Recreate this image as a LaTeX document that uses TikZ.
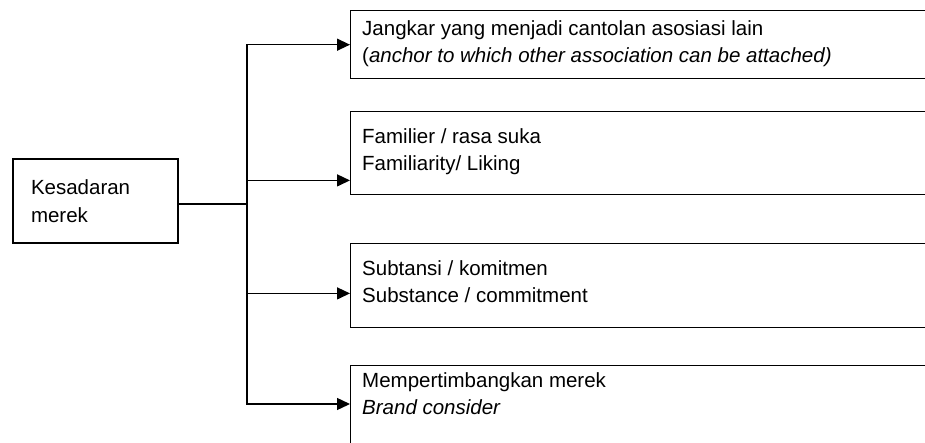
\documentclass[tikz,border=0pt]{standalone}
\usepackage{fontspec}
\setmainfont{Liberation Sans}
\usetikzlibrary{arrows.meta, positioning}

\begin{document}
\begin{tikzpicture}[
    x=1pt, y=1pt,
    font=\fontsize{20.5pt}{27.5pt}\selectfont,
    box/.style={rectangle, draw, line width=1.4pt, anchor=north west, minimum width=600pt, inner sep=0pt},
    note/.style={align=left, inner sep=0pt},
    link/.style={line width=1.4pt, -{Triangle[length=13pt, width=12pt]}}
]

\useasboundingbox (0,0) rectangle (925,-443);
\clip (0,0) rectangle (925,-443);

% Root box
\node[draw, line width=1.4pt, text width=129pt, inner xsep=18pt, inner ysep=0pt, minimum height=84pt, align=left] (kesadaran) at (95.5,-201) {Kesadaran\\merek};

% Branch boxes
\node[box, minimum height=68pt] (jangkar) at (350,-10) {};
\node[box, minimum height=83pt] (familier) at (350,-111) {};
\node[box, minimum height=84pt] (subtansi) at (350,-243) {};
\node[box, minimum height=120pt] (pertimbang) at (350,-365) {};

% Texts inside the branch boxes
\node[note, below right=10pt and 12pt of jangkar.north west] (jangkartext) {Jangkar yang menjadi cantolan asosiasi lain\\(\textit{anchor to which other association can be attached)}};
\node[note, below right=17pt and 12pt of familier.north west] (familiertext) {Familier / rasa suka\\Familiarity/ Liking};
\node[note, below right=17pt and 12pt of subtansi.north west] (subtansitext) {Subtansi / komitmen\\Substance / commitment};
\node[note, below right=7pt and 12pt of pertimbang.north west] (pertimbangtext) {Mempertimbangkan merek\\\textit{Brand consider}};

% Connectors
\coordinate (fork) at (247,-204);
\draw[line width=1.4pt] ([yshift=-3pt]kesadaran.east) -- (fork);
\draw[link] (fork) |- (jangkar.west);
\draw[link] (fork) |- ([yshift=15pt]familier.south west);
\draw[link] (fork) |- ([yshift=35pt]subtansi.south west);
\draw[link] (fork) |- ([yshift=-39pt]pertimbang.north west);

\end{tikzpicture}
\end{document}
